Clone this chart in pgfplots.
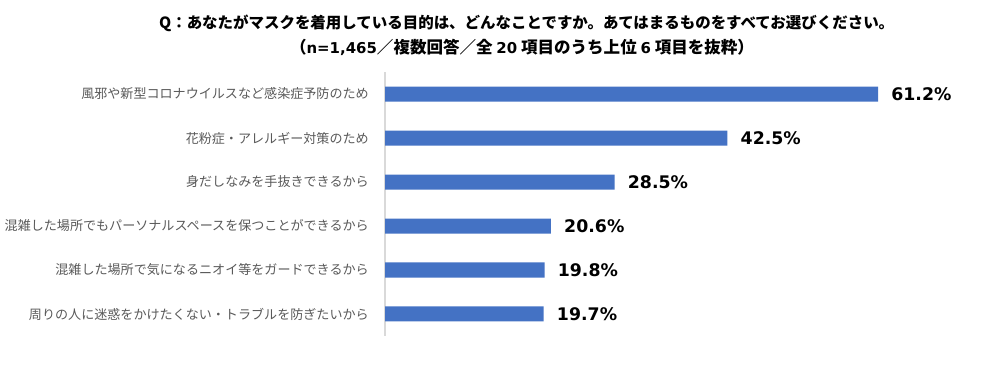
\documentclass[border=0pt]{standalone}
\usepackage{fontspec}
\usepackage{pgfplots}
\pgfplotsset{compat=1.18}
\newfontfamily\cjk{Noto Sans CJK JP}
\newfontfamily\numfont{DejaVu Sans}
\definecolor{barblue}{HTML}{4472C4}
\definecolor{labgray}{HTML}{595959}
\definecolor{axgray}{HTML}{D9D9D9}
\begin{document}
\begin{tikzpicture}
\path[use as bounding box] (0,0) rectangle (741pt,282.75pt);
\node[font=\cjk\bfseries\fontsize{11.6}{13}\selectfont, text=black] at (395pt,265.5pt) {Q：あなたがマスクを着用している目的は、どんなことですか。あてはまるものをすべてお選びください。};
\node[font=\cjk\bfseries\fontsize{12.4}{14}\selectfont, text=black] at (391.5pt,247pt) {（{\numfont\fontsize{11.2}{13}\selectfont n=1,465}／複数回答／全 {\numfont\fontsize{11.2}{13}\selectfont 20} 項目のうち上位 {\numfont\fontsize{11.2}{13}\selectfont 6} 項目を抜粋）};
\begin{axis}[
  at={(288.75pt,30.75pt)}, anchor=south west,
  scale only axis, width=423pt, height=198pt,
  xbar, bar width=11.25pt,
  xmin=0, xmax=70, ymin=0.5, ymax=6.5, y dir=reverse,
  axis x line=none, axis y line*=left,
  y axis line style={draw=axgray, line width=0.8pt, -},
  major tick length=0pt,
  ytick={1,2,3,4,5,6},
  yticklabels={風邪や新型コロナウイルスなど感染症予防のため,花粉症・アレルギー対策のため,身だしなみを手抜きできるから,混雑した場所でもパーソナルスペースを保つことができるから,混雑した場所で気になるニオイ等をガードできるから,周りの人に迷惑をかけたくない・トラブルを防ぎたいから},
  yticklabel style={font=\cjk\fontsize{9.8}{12}\selectfont, text=labgray, anchor=east, inner sep=0pt, xshift=-12pt},
  /pgf/number format/assume math mode=true,
  nodes near coords={\pgfmathprintnumber[fixed,precision=1,fixed zerofill,assume math mode=true]{\pgfplotspointmeta}\%},
  nodes near coords style={font=\numfont\bfseries\fontsize{13}{15}\selectfont, text=black, anchor=west, inner sep=0pt, xshift=9.75pt},
  point meta=explicit,
]
\addplot[fill=barblue, draw=none] coordinates {
  (61.2,1) [61.2]
  (42.5,2) [42.5]
  (28.5,3) [28.5]
  (20.6,4) [20.6]
  (19.8,5) [19.8]
  (19.7,6) [19.7]
};
\end{axis}
\end{tikzpicture}
\end{document}
